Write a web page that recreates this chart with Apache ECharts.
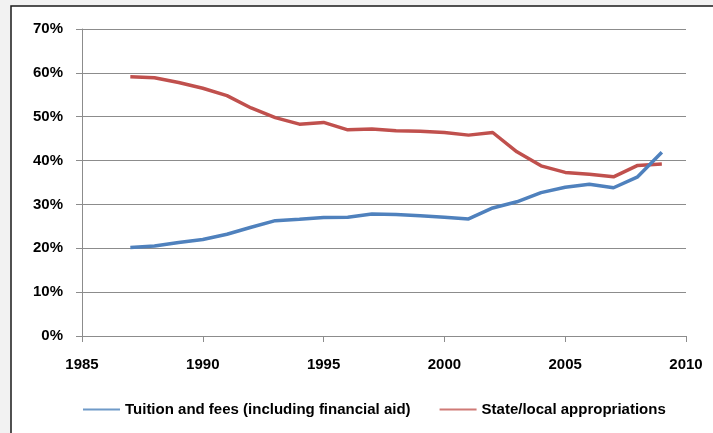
<!DOCTYPE html>
<html><head><meta charset="utf-8">
<script src="https://cdn.jsdelivr.net/npm/echarts@6/dist/echarts.min.js"></script>
<style>html,body{margin:0;padding:0;background:#f2f2f2}#c{width:713px;height:433px}</style>
</head><body><div id="c"></div>
<script>
var years = [1987,1988,1989,1990,1991,1992,1993,1994,1995,1996,1997,1998,1999,2000,2001,2002,2003,2004,2005,2006,2007,2008,2009];
var tuition = [20.2,20.5,21.3,22.0,23.2,24.8,26.3,26.6,27.0,27.1,27.8,27.7,27.4,27.1,26.7,29.2,30.6,32.7,33.9,34.6,33.8,36.3,41.9];
var stateLocal = [59.1,58.9,57.8,56.5,54.8,52.0,49.8,48.3,48.7,47.0,47.2,46.8,46.7,46.4,45.8,46.4,42.0,38.8,37.3,36.9,36.3,38.9,39.2];
var seriesNames = ["Tuition and fees (including financial aid)","State/local appropriations"];
var xTicks = {min:1985,max:2010,interval:5};
var yTicks = {min:0,max:70,interval:10};

function pairs(vals){return years.map(function(y,i){return [y, vals[i]];});}
var font = "'Liberation Sans', Arial, sans-serif";
var chart = echarts.init(document.getElementById('c'));
chart.setOption({
  backgroundColor:'#f2f2f2',
  animation:false,
  graphic:[{type:'rect',z:-10,shape:{x:11,y:6,width:720,height:440},style:{fill:'#ffffff',stroke:'#1a1a1a',lineWidth:1.5}}],
  grid:{left:82,right:27,top:29,bottom:97},
  xAxis:{type:'value',min:xTicks.min,max:xTicks.max,interval:xTicks.interval,
    axisLine:{show:true,lineStyle:{color:'#8c8c8c',width:1}},
    axisTick:{show:true,inside:false,length:6,lineStyle:{color:'#8c8c8c'}},
    splitLine:{show:false},
    axisLabel:{margin:21,color:'#000',fontFamily:font,fontWeight:'bold',fontSize:15,formatter:function(v){return String(v);}}},
  yAxis:{type:'value',min:yTicks.min,max:yTicks.max,interval:yTicks.interval,
    axisLine:{show:true,lineStyle:{color:'#8c8c8c',width:1}},
    axisTick:{show:true,length:6,lineStyle:{color:'#8c8c8c'}},
    splitLine:{show:true,lineStyle:{color:'#8c8c8c',width:1}},
    axisLabel:{margin:19,color:'#000',fontFamily:font,fontWeight:'bold',fontSize:15,formatter:function(v){return v+'%';}}},
  legend:{left:83,top:402,padding:0,itemWidth:37,itemHeight:2,itemGap:29,icon:'rect',
    textStyle:{color:'#000',fontFamily:font,fontWeight:'bold',fontSize:15},
    data:seriesNames},
  series:[
    {name:seriesNames[0],type:'line',data:pairs(tuition),showSymbol:false,symbol:'none',itemStyle:{color:'#6f9ac8'},lineStyle:{width:3.5,color:'#4f81bd'},z:3},
    {name:seriesNames[1],type:'line',data:pairs(stateLocal),showSymbol:false,symbol:'none',itemStyle:{color:'#cf7a77'},lineStyle:{width:3.5,color:'#c0504d'},z:2}
  ]
});
</script></body></html>
